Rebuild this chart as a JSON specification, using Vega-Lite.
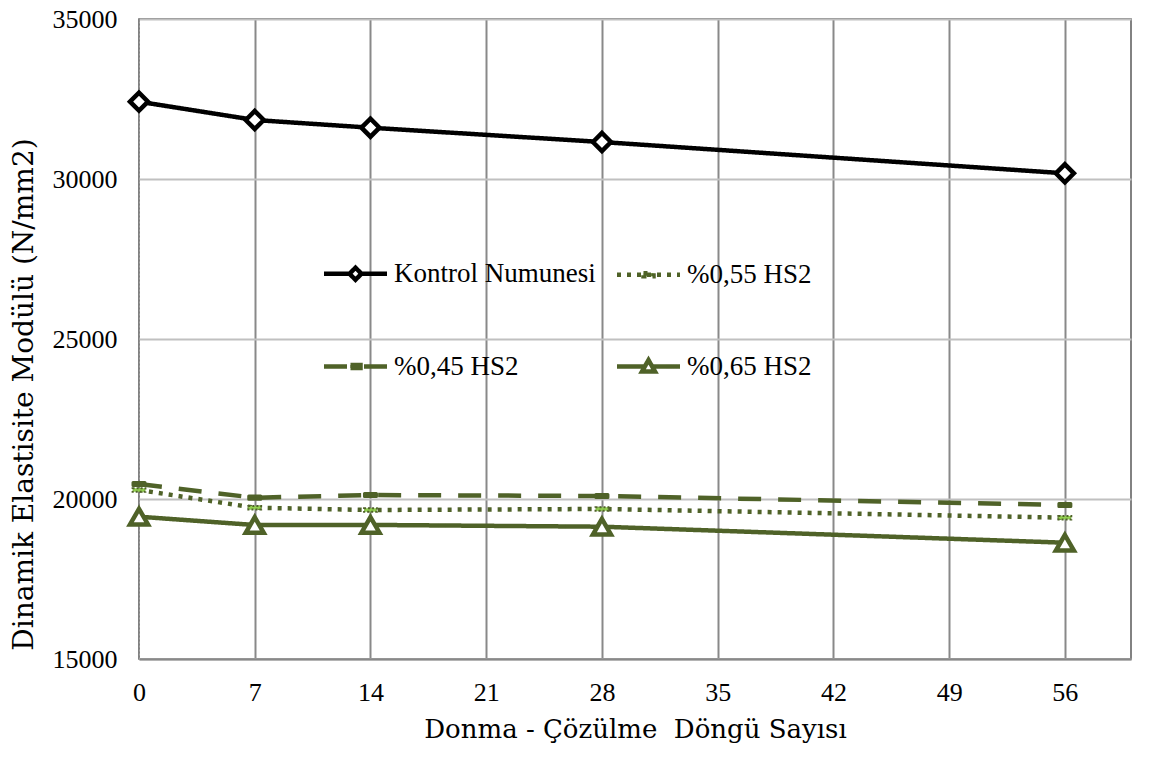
{
  "$schema": "https://vega.github.io/schema/vega-lite/v6.json",
  "width": 992,
  "height": 640,
  "autosize": {"type": "none"},
  "padding": {"left": 139, "top": 19, "right": 36, "bottom": 99},
  "background": "white",
  "config": {
    "view": {"stroke": "#595959", "strokeWidth": 1.5},
    "font": "Liberation Serif"
  },
  "data": {
    "values": [
      {"seri": "Kontrol Numunesi", "dongu": 0, "deger": 32416},
      {"seri": "Kontrol Numunesi", "dongu": 7, "deger": 31844},
      {"seri": "Kontrol Numunesi", "dongu": 14, "deger": 31603},
      {"seri": "Kontrol Numunesi", "dongu": 28, "deger": 31156},
      {"seri": "Kontrol Numunesi", "dongu": 56, "deger": 30178},
      {"seri": "%0,55 HS2", "dongu": 0, "deger": 20281},
      {"seri": "%0,55 HS2", "dongu": 7, "deger": 19728},
      {"seri": "%0,55 HS2", "dongu": 14, "deger": 19656},
      {"seri": "%0,55 HS2", "dongu": 28, "deger": 19688},
      {"seri": "%0,55 HS2", "dongu": 56, "deger": 19416},
      {"seri": "%0,45 HS2", "dongu": 0, "deger": 20469},
      {"seri": "%0,45 HS2", "dongu": 7, "deger": 20040},
      {"seri": "%0,45 HS2", "dongu": 14, "deger": 20125},
      {"seri": "%0,45 HS2", "dongu": 28, "deger": 20094},
      {"seri": "%0,45 HS2", "dongu": 56, "deger": 19812},
      {"seri": "%0,65 HS2", "dongu": 0, "deger": 19447},
      {"seri": "%0,65 HS2", "dongu": 7, "deger": 19187},
      {"seri": "%0,65 HS2", "dongu": 14, "deger": 19190},
      {"seri": "%0,65 HS2", "dongu": 28, "deger": 19134},
      {"seri": "%0,65 HS2", "dongu": 56, "deger": 18634}
    ]
  },
  "encoding": {
    "x": {
      "field": "dongu",
      "type": "quantitative",
      "scale": {"domain": [0, 60], "nice": false, "zero": false},
      "axis": {
        "values": [0, 7, 14, 21, 28, 35, 42, 49, 56],
        "title": "Donma - Çözülme \u00a0Döngü Sayısı",
        "titleFont": "DejaVu Serif",
        "titleFontSize": 26,
        "titleFontWeight": "normal",
        "titleColor": "#000000",
        "titleBaseline": "alphabetic",
        "titleAlign": "center",
        "titleX": 496,
        "titleY": 78,
        "labelFont": "Liberation Serif",
        "labelFontSize": 26,
        "labelColor": "#000000",
        "labelPadding": 20,
        "labelFlush": false,
        "labelOverlap": false,
        "ticks": false,
        "domainColor": "#898989",
        "domainWidth": 2,
        "gridColor": "#898989",
        "gridWidth": 2,
        "gridOpacity": {"condition": {"test": "datum.value === 0", "value": 0}, "value": 1}
      }
    },
    "y": {
      "field": "deger",
      "type": "quantitative",
      "scale": {"domain": [15000, 35000], "nice": false, "zero": false},
      "axis": {
        "values": [15000, 20000, 25000, 30000, 35000],
        "format": "d",
        "title": "Dinamik Elastisite Modülü (N/mm2)",
        "titleFont": "DejaVu Serif",
        "titleFontSize": 28,
        "titleFontWeight": "normal",
        "titleColor": "#000000",
        "titleAngle": 270,
        "titleBaseline": "alphabetic",
        "titleAlign": "center",
        "titleX": -107,
        "titleY": 375,
        "labelFont": "Liberation Serif",
        "labelFontSize": 26,
        "labelColor": "#000000",
        "labelPadding": 22,
        "labelFlush": false,
        "ticks": false,
        "domainColor": "#a0a0a0",
        "domainDash": [2, 2],
        "domainWidth": 1,
        "gridColor": "#c0c0c0",
        "gridWidth": 2
      }
    }
  },
  "layer": [
    {
      "mark": {"type": "line", "strokeWidth": 4.5},
      "encoding": {
        "color": {
          "field": "seri",
          "type": "nominal",
          "scale": {
            "domain": ["Kontrol Numunesi", "%0,45 HS2", "%0,55 HS2", "%0,65 HS2"],
            "range": ["#000000", "#4f6228", "#4f6228", "#4f6228"]
          },
          "legend": {
            "orient": "none",
            "legendX": 183,
            "legendY": 241,
            "columns": 2,
            "title": null,
            "padding": 0,
            "symbolSize": 400,
            "symbolStrokeWidth": 4.5,
            "symbolOffset": 20,
            "labelOffset": 25,
            "labelFont": "Liberation Serif",
            "labelFontSize": 27,
            "labelColor": "#000000",
            "labelLimit": 400,
            "rowPadding": 62,
            "columnPadding": 12,
            "encode": {
              "symbols": {
                "update": {
                  "shape": {"signal": "datum.value === 'Kontrol Numunesi' ? 'M-3.15,0H-0.6M0.6,0H3.15M-0.6,0L0,-0.6L0.6,0L0,0.6Z' : datum.value === '%0,65 HS2' ? 'M-3.15,0H-0.37M0.37,0H3.15M0,-0.65L0.65,0.5L-0.65,0.5Z' : 'M-3.15,0H3.15M-0.5,-0.15H0.5V0.15H-0.5Z'"},
                  "fill": {"signal": "datum.value === '%0,55 HS2' ? '#92d050' : datum.value === '%0,45 HS2' ? '#4f6228' : '#ffffff'"}
                }
              }
            }
          }
        },
        "strokeDash": {
          "field": "seri",
          "type": "nominal",
          "scale": {
            "domain": ["Kontrol Numunesi", "%0,45 HS2", "%0,55 HS2", "%0,65 HS2"],
            "range": [[1, 0], [23, 17], [4, 6], [1, 0]]
          }
        }
      }
    },
    {
      "transform": [{"filter": "datum.seri === 'Kontrol Numunesi' || datum.seri === '%0,65 HS2'"}],
      "mark": {"type": "point", "filled": false, "fill": "#ffffff", "fillOpacity": 1, "opacity": 1, "strokeWidth": 4.5, "size": 324},
      "encoding": {
        "shape": {
          "field": "seri",
          "type": "nominal",
          "scale": {"domain": ["Kontrol Numunesi", "%0,65 HS2"], "range": ["diamond", "triangle-up"]},
          "legend": null
        },
        "stroke": {
          "field": "seri",
          "type": "nominal",
          "scale": {"domain": ["Kontrol Numunesi", "%0,65 HS2"], "range": ["#000000", "#4f6228"]},
          "legend": null
        }
      }
    },
    {
      "transform": [{"filter": "datum.seri === '%0,45 HS2'"}],
      "mark": {"type": "point", "shape": "M-0.75,-0.2H0.75V0.2H-0.75Z", "filled": true, "fill": "#4f6228", "stroke": "#4f6228", "strokeWidth": 3, "strokeJoin": "round", "opacity": 1, "size": 256}
    },
    {
      "transform": [{"filter": "datum.seri === '%0,55 HS2'"}],
      "mark": {"type": "point", "shape": "M-0.8,-0.22H0.8V0.22H-0.8Z", "filled": true, "fill": "#92d050", "stroke": "#4f6228", "strokeWidth": 2, "strokeDash": [2, 2], "opacity": 1, "size": 256}
    }
  ]
}
